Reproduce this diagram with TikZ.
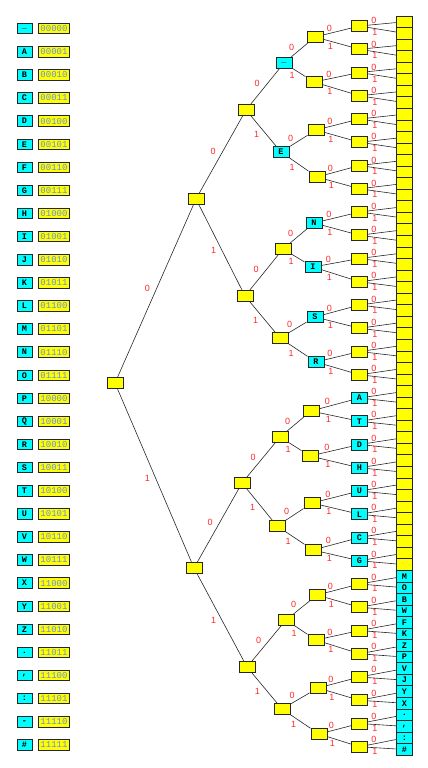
\documentclass[tikz,border=0pt]{standalone}
\usepackage{fontspec}
\setmainfont{Liberation Sans}
\newfontfamily\monofont{Liberation Mono}
\definecolor{ylw}{RGB}{255,255,0}
\definecolor{cyn}{RGB}{0,255,255}
\definecolor{lblred}{RGB}{255,40,40}
\definecolor{codeblue}{RGB}{100,140,240}
\tikzset{
  box/.style={draw=black!85, line width=0.9pt, minimum width=16pt, minimum height=11pt,
    inner sep=0pt, font=\monofont\bfseries\fontsize{8.5}{8.5}\selectfont},
  ybox/.style={box, fill=ylw},
  cbox/.style={box, fill=cyn},
  leafy/.style={ybox, minimum height=11.55pt},
  leafc/.style={cbox, minimum height=11.55pt},
  codebox/.style={ybox, minimum width=31pt, minimum height=10.5pt, text=codeblue,
    font=\monofont\fontsize{9}{9}\selectfont},
  keybox/.style={cbox, minimum width=15pt, minimum height=10.5pt},
  link/.style={draw=black!85, line width=0.6pt},
  bit/.style={text=lblred, font=\fontsize{9}{9}\selectfont, inner sep=0pt},
  zero/.style={bit, midway, xshift=-8pt, yshift=3pt},
  one/.style={bit, midway, xshift=-7pt, yshift=-3pt}
}
\begin{document}
\begin{tikzpicture}[x=1pt,y=-1pt]
\useasboundingbox (0,0) rectangle (428,768);
% legend
\foreach \i/\ch/\code in {0/\_/00000,1/A/00001,2/B/00010,3/C/00011,4/D/00100,5/E/00101,
  6/F/00110,7/G/00111,8/H/01000,9/I/01001,10/J/01010,11/K/01011,12/L/01100,13/M/01101,
  14/N/01110,15/O/01111,16/P/10000,17/Q/10001,18/R/10010,19/S/10011,20/T/10100,
  21/U/10101,22/V/10110,23/W/10111,24/X/11000,25/Y/11001,26/Z/11010,27/./11011,
  28/{,}/11100,29/:/11101,30/{-}/11110,31/\#/11111}{
  \node[keybox] (key\i) at (24.5, 28.7+23.1*\i) {\ch};
  \node[codebox] (code\i) at (54, 28.7+23.1*\i) {\code};
}
% tree: levels 0-4
\node[ybox] (r) at (115,383) {};
\node[ybox] (a0) at (196,199) {};
\node[ybox] (a1) at (194,568) {};
\node[ybox] (b0) at (246,110) {};
\node[ybox] (b1) at (245,296) {};
\node[ybox] (b2) at (242,483) {};
\node[ybox] (b3) at (247,667) {};
\node[cbox] (c0) at (284,63) {\_};
\node[cbox] (c1) at (281,152) {E};
\node[ybox] (c2) at (283,249) {};
\node[ybox] (c3) at (280,338) {};
\node[ybox] (c4) at (280,437) {};
\node[ybox] (c5) at (277,526) {};
\node[ybox] (c6) at (286,620) {};
\node[ybox] (c7) at (282,709) {};
\node[ybox] (d0) at (315,37) {};
\node[ybox] (d1) at (314,82) {};
\node[ybox] (d2) at (316,130) {};
\node[ybox] (d3) at (317,177) {};
\node[cbox] (d4) at (314,223) {N};
\node[cbox] (d5) at (313,267) {I};
\node[cbox] (d6) at (315,317) {S};
\node[cbox] (d7) at (316,362) {R};
\node[ybox] (d8) at (311,411) {};
\node[ybox] (d9) at (310,456) {};
\node[ybox] (d10) at (312,503) {};
\node[ybox] (d11) at (313,550) {};
\node[ybox] (d12) at (317,595) {};
\node[ybox] (d13) at (316,640) {};
\node[ybox] (d14) at (318,688) {};
\node[ybox] (d15) at (319,734) {};
% level 5
\foreach \j in {0,...,15,24,25,...,31}
  \node[ybox] (p\j) at (359.5, 26+23.25*\j) {};
\foreach \j/\ch in {16/A,17/T,18/D,19/H,20/U,21/L,22/C,23/G}
  \node[cbox] (p\j) at (359.5, 26+23.25*\j) {\ch};
% leaves
\foreach \k in {0,...,47}
  \node[leafy] (q\k) at (404.3, 21.8+11.55*\k) {};
\foreach \k/\ch in {48/M,49/O,50/B,51/W,52/F,53/K,54/Z,55/P,56/V,57/J,58/Y,59/X,
  60/.,61/{,},62/:,63/\#}
  \node[leafc] (q\k) at (404.3, 21.8+11.55*\k) {\ch};
% connectors
\draw[link] (r) -- node[zero]{0} (a0);
\draw[link] (r) -- node[one]{1} (a1);
\foreach \i [evaluate=\i as \u using int(2*\i), evaluate=\i as \v using int(2*\i+1)] in {0,1} {
  \draw[link] (a\i) -- node[zero]{0} (b\u);
  \draw[link] (a\i) -- node[one]{1} (b\v);
}
\foreach \i [evaluate=\i as \u using int(2*\i), evaluate=\i as \v using int(2*\i+1)] in {0,...,3} {
  \draw[link] (b\i) -- node[zero]{0} (c\u);
  \draw[link] (b\i) -- node[one]{1} (c\v);
}
\foreach \i [evaluate=\i as \u using int(2*\i), evaluate=\i as \v using int(2*\i+1)] in {0,...,7} {
  \draw[link] (c\i) -- node[zero]{0} (d\u);
  \draw[link] (c\i) -- node[one]{1} (d\v);
}
\foreach \i [evaluate=\i as \u using int(2*\i), evaluate=\i as \v using int(2*\i+1)] in {0,...,15} {
  \draw[link] (d\i) -- node[zero]{0} (p\u);
  \draw[link] (d\i) -- node[one]{1} (p\v);
}
\foreach \i [evaluate=\i as \u using int(2*\i), evaluate=\i as \v using int(2*\i+1)] in {0,...,31} {
  \draw[link] (p\i) -- node[zero]{0} (q\u);
  \draw[link] (p\i) -- node[one]{1} (q\v);
}
\end{tikzpicture}
\end{document}
